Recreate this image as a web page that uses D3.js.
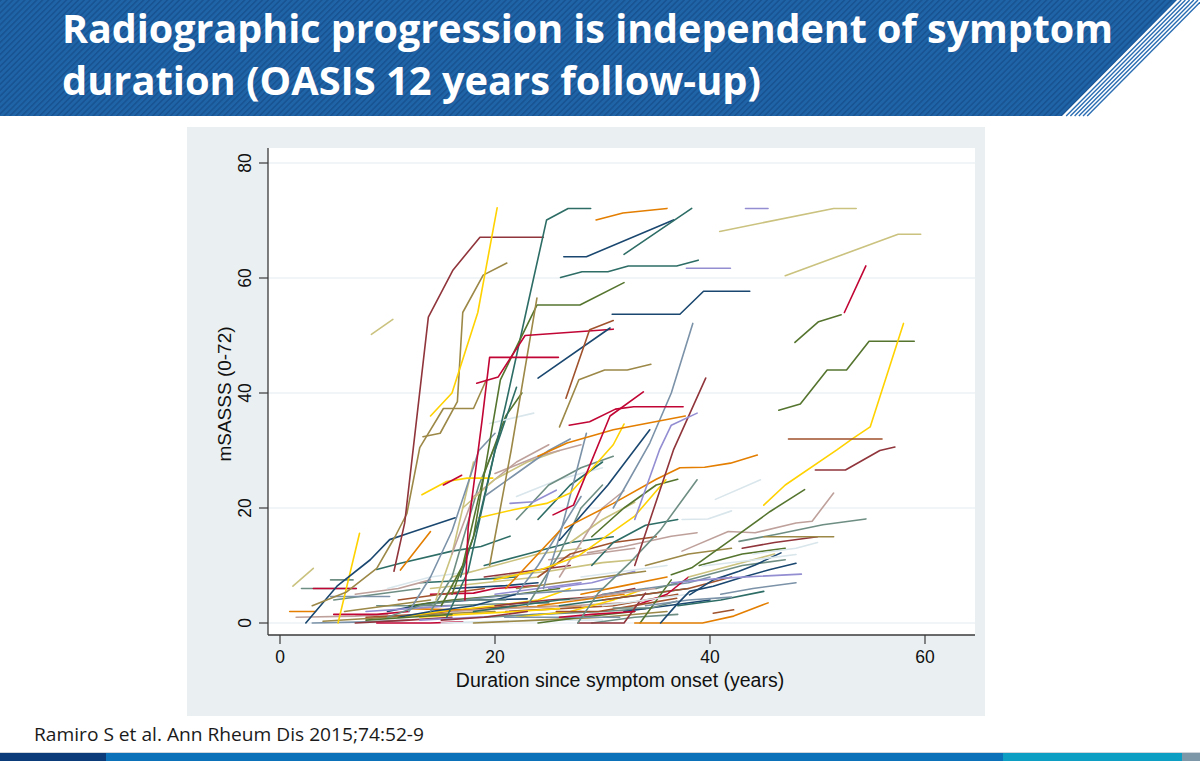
<!DOCTYPE html>
<html>
<head>
<meta charset="utf-8">
<script src="https://cdn.jsdelivr.net/npm/d3@7"></script>
<style>
  body { margin: 0; background: #fff; }
  svg { display: block; }
</style>
</head>
<body>
<div id="slide"></div>
<script>
// slide text
const titleLines = ["Radiographic progression is independent of symptom",
                    "duration (OASIS 12 years follow-up)"];
const citation = "Ramiro S et al. Ann Rheum Dis 2015;74:52-9";
const xTitle = "Duration since symptom onset (years)";
const yTitle = "mSASSS (0-72)";
const xTicks = [0, 20, 40, 60];
const yTicks = [0, 20, 40, 60, 80];

// stata s2color pstyles p1..p15
const pstyleColors = ["#1a476f", "#90353b", "#55752f", "#e37e00", "#6e8e84",
  "#c10534", "#938dd2", "#cac27e", "#a0522d", "#7b92a8",
  "#2d6d66", "#9c8847", "#bfa19c", "#ffd200", "#d9e6eb"];

// [pstyle, [[years, mSASSS], ...]]
const lowTrajectories = [
  [13, [[1.5,1],[7,1.2],[10,1.5]]],
  [10, [[3,0],[8,0.2],[12,0.5]]],
  [12, [[4,0.3],[10,1],[15,1.6],[20,2]]],
  [2, [[7,0],[12,0.5],[16,1]]],
  [6, [[9,0],[14,0],[17,0.2]]],
  [9, [[8,1],[13,1.5],[18,2.5],[22,3]]],
  [5, [[9,3],[15,3],[20,3.3],[25,3.5]]],
  [1, [[10,2],[14,3.5],[18,4],[23,4.2]]],
  [14, [[11,1],[15,2],[20,3],[24,4],[27,6]]],
  [3, [[12,3],[16,4],[22,5],[26,6]]],
  [7, [[13,0.5],[18,1],[24,1.5],[28,2]]],
  [4, [[12,2.5],[18,2.2],[23,2.8],[28,3]]],
  [8, [[14,6],[19,7],[24,8]]],
  [11, [[13,7],[17,7.4],[22,8]]],
  [15, [[15,0],[20,0.3],[26,0.5],[30,0.5]]],
  [13, [[16,2],[21,2.5],[27,3],[32,3.5]]],
  [6, [[14,5],[18,5.2],[20,6],[24,6.5]]],
  [10, [[17,4],[22,5],[26,5.5],[30,6]]],
  [1, [[16,6],[21,6.5],[24,7]]],
  [5, [[19,1],[24,1.5],[30,2],[34,2.5]]],
  [12, [[18,0],[24,0.5],[30,1],[36,2]]],
  [2, [[20,3],[25,4],[29,4.5],[33,6]]],
  [9, [[21,2],[26,2.5],[31,3],[34,4],[37,5]]],
  [14, [[22,1],[27,2],[31,4],[34,6]]],
  [3, [[24,0],[28,1],[33,2]]],
  [8, [[20,8],[25,9],[30,10.5],[33,11]]],
  [7, [[25,6],[29,7],[33,9]]],
  [11, [[26,3],[30,4],[34,5],[38,6]]],
  [10, [[30,5],[34,6],[38,7],[40,8]]],
  [13, [[25,11],[29,12],[33,13]]],
  [4, [[28,5],[32,6.5],[36,8]]],
  [15, [[28,8],[32,9],[36,10]]],
  [5, [[29,0],[33,1],[37,1.5]]],
  [9, [[30,4],[34,5],[38,6],[42,8]]],
  [1, [[32,2],[36,3],[40,4]]],
  [6, [[33,3],[36,5],[38,8]]],
  [12, [[34,10],[38,12],[42,13]]],
  [8, [[38,8],[42,10],[46,12]]],
  [3, [[39,10],[43,12],[47,13]]],
  [2, [[43,13],[46,14],[50,15]]],
  [10, [[41,5],[44,6],[48,7]]],
  [15, [[44,12],[48,13],[50,14]]],
  [11, [[37,3],[41,4],[45,5.5]]],
  [5, [[5,4],[9,5],[13,6]]],
  [12, [[6,2],[10,3],[14,4]]],
  [13, [[7,5],[11,6],[14,7.5]]],
  [7, [[8,2],[12,2.5],[16,3]]],
  [15, [[10,6],[14,8],[18,9]]],
  [6, [[5,1.5],[9,1.5],[12,2]]],
  [10, [[20.9,1],[31.6,1]]],
  [9, [[25.7,2],[29.6,2],[33.5,3.2],[36.9,4.3]]],
  [5, [[31,2.6],[34.5,2.6],[36.9,3.8]]],
  [3, [[33.5,0],[36.4,7.5]]],
  [2, [[27.7,0],[32,0],[34,5.2]]],
  [4, [[33,0],[39.3,0],[42.2,1.2],[45.4,3.5]]],
  [9, [[40.3,1.7],[42.2,2.3]]],
  [8, [[1.2,6.4],[3.1,9.5]]],
  [5, [[2,6],[7.1,6]]],
  [6, [[3.1,6],[7.1,6]]],
  [5, [[4.7,7.5],[6.8,7.5]]],
  [4, [[0.9,2],[3.3,2]]],
  [10, [[4.7,4.6],[10.2,4.6]]],
  [1, [[11,1],[14,2],[18,3],[22,5]]],
  [5, [[10,1],[13,3],[17,4],[21,4]]],
  [14, [[13,1],[17,1.5],[22,2],[26,2.5]]],
  [11, [[18,2],[22,3],[26,4],[30,4.5]]],
  [2, [[15,0.5],[19,1],[23,2]]],
  [7, [[20,5],[24,6],[28,7]]],
  [12, [[22,6],[26,7],[30,8],[34,9]]],
  [4, [[24,3],[28,4],[32,5]]],
  [6, [[26,1],[29,1.5],[33,2]]],
  [15, [[30,3],[34,4],[38,5]]],
  [13, [[27,4],[31,5],[35,6]]],
  [9, [[11,4],[15,5],[19,6]]],
  [3, [[8,0.5],[12,1],[16,1.5]]],
  [10, [[34,3],[38,4],[42,4.5]]],
  [5, [[35,6],[39,8],[43,10],[47,11]]]
];

const midTrajectories = [
  [14, [[5.4,0],[7.4,15.6]]],
  [1, [[2.4,0],[5.3,6.4],[8.4,11],[10.2,14.5],[12.1,15.7],[16.3,18.3]]],
  [11, [[9,9.3],[11.2,10.4],[16,12.5],[18.7,13.3],[21.4,15.1]]],
  [4, [[11.2,9.2],[14,15.9]]],
  [8, [[16,8],[20,10],[24,12],[28,13]]],
  [11, [[19,10],[23,12],[27,14],[31,15]]],
  [2, [[19,8],[23,9],[27,10]]],
  [5, [[14,2],[16,8],[18.5,24],[20.5,33]]],
  [3, [[15,3],[17,10],[19,26],[21,36],[22.5,40]]],
  [11, [[15.5,1],[17.5,9],[20,30],[22,41]]],
  [8, [[14.5,4],[16,12],[18,28]]],
  [10, [[12,2],[14,8],[16,16],[18.5,30],[20,33]]],
  [13, [[16,12],[18,22],[22,28],[25,31]]],
  [8, [[17,20],[20,25],[23,28],[26,30]]],
  [15, [[22,22],[26,25],[30,27]]],
  [13, [[20,26],[24,29],[28,31]]],
  [5, [[22,18],[25,24],[28,27],[31,29]]],
  [10, [[19,22],[22,26],[25,30],[27,32]]],
  [11, [[24,18],[27,24],[30,28]]],
  [8, [[27,14],[30,18],[33,21]]],
  [3, [[29,15],[32,20],[35,24],[37,25]]],
  [10, [[22,5],[24,10],[26,16],[28,22]]],
  [5, [[23,3],[26,12],[28,20],[30,24]]],
  [4, [[21,6],[24,12],[26,16]]],
  [13, [[26,8],[28,14],[30,20],[32,23]]],
  [9, [[24,8],[27,12],[31,14],[35,15]]],
  [11, [[29,10],[31,14],[34,17],[37,18]]],
  [10, [[24.5,6],[26,15],[28.5,33]]],
  [14, [[19.9,7.5],[24.3,9.3],[27.7,11.6],[33,18.6],[35.9,24.9]]],
  [13, [[28.6,12.2],[32,13.3],[36.4,15.1],[38.8,15.7]]],
  [5, [[27.7,0],[29.6,5.2],[32.5,10.4],[35.4,16.2],[38.8,24.9]]],
  [5, [[42.7,14.2],[46.1,15.4],[50.5,17.1],[54.5,18.1]]],
  [12, [[45,15],[51.5,15]]],
  [13, [[37.4,12.5],[41.7,15.9],[44.2,15.7],[48,17.4],[49.5,17.7],[51.5,22.6]]],
  [3, [[36.4,8.4],[38.3,9.6],[42.2,14.8],[45.6,19.4],[48.8,23.2]]],
  [1, [[35.4,0],[36.9,3.2],[38.1,5.5],[40.3,6.4],[42.7,7.8],[45.6,9.3],[48,10.4]]],
  [1, [[38.1,4.9],[40.3,7.5],[42.7,9],[44.2,10.1],[46.6,12.2]]],
  [7, [[36.4,7],[41.3,7.8],[48.5,8.5]]],
  [15, [[39.3,9.9],[44.2,11],[48,11.9]]],
  [15, [[37.4,18],[39.8,18.1],[42,19.5]]],
  [15, [[40.5,21.5],[44.7,24.9]]],
  [14, [[18.5,18.3],[21.7,19.7],[24.8,20.8],[27,22.6],[31,31],[32,34.6]]],
  [14, [[13.2,22.3],[15.5,24.6],[17.4,25.2],[19.8,25.2]]],
  [6, [[15.2,24],[16.9,25.7]]],
  [15, [[19.5,34.7],[23.6,36.5]]],
  [7, [[21.4,20.8],[23.6,21.1],[25.7,23.1]]],
  [1, [[26,14.4],[30.5,24],[34.4,33.6]]],
  [4, [[26.5,16.5],[31,20.8],[35,25],[37.2,27],[39.5,27.1],[41.9,27.8],[44.4,29.2]]]
];

const highTrajectories = [
  [12, [[3,3],[6.2,5.4],[9,9.5],[10.7,15],[11.8,19],[13,30.5],[15.2,37.3],[18,37.3],[19.2,42.3]]],
  [2, [[10.6,9],[11.6,17.4],[13.8,53.2],[16.1,61.4],[18.6,67.1],[24.5,67.1]]],
  [12, [[13.3,32.4],[14.9,33],[16.5,38.5],[17,54],[18.9,60.5],[21.1,62.6]]],
  [14, [[14,36],[16,40],[18.4,54],[20.2,72.2]]],
  [8, [[8.5,50.2],[10.5,52.8]]],
  [11, [[16.8,8],[18.5,18],[21,38],[23,55],[24.8,70.1],[26.8,72.1],[28.9,72.1]]],
  [3, [[16,5],[18,15],[20.5,42.3],[23.9,55.3],[27.9,55.3],[32,59.2]]],
  [12, [[19.5,10],[21.5,30],[23.9,56.5]]],
  [6, [[17.2,4],[17.5,16.5],[18.8,35.3],[19.5,46.2],[25.9,46.2]]],
  [6, [[18.3,41.7],[20.3,42.8],[22.8,50],[31,51.1]]],
  [4, [[29.4,70.1],[31.9,71.3],[36,72.1]]],
  [1, [[26.4,63.7],[28.5,63.7],[36.6,70.1]]],
  [11, [[32,64.1],[38.3,72.1]]],
  [7, [[43.3,72.1],[45.4,72.1]]],
  [8, [[40.9,68.1],[51.5,72.1],[53.6,72.1]]],
  [8, [[47,60.4],[57.5,67.6],[59.6,67.6]]],
  [11, [[26.1,60.1],[28.1,61.1],[30.5,61.1],[32.4,62.1],[36.9,62.1],[38.9,63.1]]],
  [7, [[37.8,61.7],[41.9,61.7]]],
  [6, [[52.5,54],[54.5,62.1]]],
  [3, [[47.9,48.8],[50.1,52.4],[52.2,53.6]]],
  [3, [[46.4,37],[48.4,38.1],[50.9,44],[52.7,44],[54.8,49],[59,49]]],
  [14, [[45,20.5],[47,24],[51.8,30.1],[53.3,32.1],[54.9,34.1],[58,52.1]]],
  [9, [[47.3,32],[56,32]]],
  [2, [[49.8,26.6],[52.6,26.6],[55.8,30],[57.2,30.6]]],
  [1, [[30.9,53.7],[37.2,53.7],[39.4,57.7],[43.7,57.7]]],
  [1, [[24,42.6],[30.7,51.3]]],
  [9, [[26.6,39.1],[28.8,51],[31,52.6]]],
  [12, [[26,34.1],[27.8,42.3],[30.2,44],[32.3,44],[34.5,45]]],
  [10, [[31,20],[34.4,31.3],[36.4,40],[38.4,52.1]]],
  [2, [[33,10],[36.6,30.1],[39.6,42.6]]],
  [6, [[26.9,34.4],[28.8,35],[31.2,37.2],[32.9,37.6],[37.5,37.6]]],
  [4, [[24,29],[26.7,31.3],[31,33.6],[37.7,36]]],
  [7, [[33,18],[35.3,30.1],[36.4,34.4],[38.8,36.5]]],
  [6, [[25.4,18.8],[27.3,20.5],[30.7,36],[33.8,40.2]]]
];

const W = 1200, H = 761;
const svg = d3.select("#slide").append("svg")
    .attr("width", W)
    .attr("height", H);

const defs = svg.append("defs");

// banner hatching
const hatch = defs.append("pattern")
    .attr("id", "hatch")
    .attr("patternUnits", "userSpaceOnUse")
    .attr("width", 4.2)
    .attr("height", 4.2)
    .attr("patternTransform", "rotate(45)");
hatch.append("rect").attr("width", 4.2).attr("height", 4.2).attr("fill", "#2064a8");
hatch.append("line").attr("x1", 0.8).attr("y1", 0).attr("x2", 0.8).attr("y2", 4.2)
    .attr("stroke", "#17518f").attr("stroke-width", 1.4);

// title banner
const bannerBottom = 116;
svg.append("path")
    .attr("d", `M0,0 L1177,0 L1062,${bannerBottom} L0,${bannerBottom} Z`)
    .attr("fill", "url(#hatch)");

// thin stripes next to the slanted edge
d3.range(1, 7).forEach(k => {
    svg.append("line")
        .attr("x1", 1177 + k * 4.2).attr("y1", 0)
        .attr("x2", 1062 + k * 4.2).attr("y2", bannerBottom)
        .attr("stroke", "#2a6db2")
        .attr("stroke-width", 1.4);
});

const titleText = svg.append("g")
    .attr("font-family", "'Open Sans', 'DejaVu Sans', sans-serif")
    .attr("font-weight", 700)
    .attr("font-size", 40)
    .attr("fill", "#fff");
titleText.append("text").attr("x", 62).attr("y", 43)
    .attr("textLength", 1051).attr("lengthAdjust", "spacingAndGlyphs")
    .text(titleLines[0]);
titleText.append("text").attr("x", 62).attr("y", 95)
    .attr("textLength", 699).attr("lengthAdjust", "spacingAndGlyphs")
    .text(titleLines[1]);

// graph region
svg.append("rect")
    .attr("x", 187).attr("y", 127)
    .attr("width", 798).attr("height", 589)
    .attr("fill", "#eaf0f2");

const plot = {left: 268, right: 975, top: 148, bottom: 635};

svg.append("rect")
    .attr("x", plot.left).attr("y", plot.top)
    .attr("width", plot.right - plot.left).attr("height", plot.bottom - plot.top)
    .attr("fill", "#fff");

const x = d3.scaleLinear().domain([0, 60]).range([280, 925]);
const y = d3.scaleLinear().domain([0, 80]).range([623, 163]);

// gridlines
svg.append("g")
    .selectAll("line")
    .data(yTicks)
    .join("line")
    .attr("x1", plot.left).attr("x2", plot.right)
    .attr("y1", d => y(d)).attr("y2", d => y(d))
    .attr("stroke", "#e4ecef")
    .attr("stroke-width", 1.2);

defs.append("clipPath").attr("id", "plotClip")
    .append("rect")
    .attr("x", plot.left + 1).attr("y", plot.top)
    .attr("width", plot.right - plot.left - 1).attr("height", plot.bottom - plot.top - 1);

const line = d3.line()
    .x(d => x(d[0]))
    .y(d => y(d[1]));

const allTrajectories = lowTrajectories.concat(midTrajectories, highTrajectories);

svg.append("g")
    .attr("clip-path", "url(#plotClip)")
    .selectAll("path")
    .data(allTrajectories)
    .join("path")
    .attr("d", d => line(d[1]))
    .attr("fill", "none")
    .attr("stroke", d => pstyleColors[d[0] - 1])
    .attr("stroke-width", 1.6)
    .attr("stroke-linejoin", "round")
    .attr("stroke-linecap", "round");

// axes
const axisColor = "#3a3a3a";
const axisFont = "'Liberation Sans', Arial, sans-serif";

svg.append("line")
    .attr("x1", plot.left).attr("x2", plot.left)
    .attr("y1", plot.top).attr("y2", plot.bottom)
    .attr("stroke", axisColor).attr("stroke-width", 1.3);
svg.append("line")
    .attr("x1", plot.left).attr("x2", plot.right)
    .attr("y1", plot.bottom).attr("y2", plot.bottom)
    .attr("stroke", axisColor).attr("stroke-width", 1.3);

const yAxis = svg.append("g");
yAxis.selectAll("line")
    .data(yTicks)
    .join("line")
    .attr("x1", plot.left - 9).attr("x2", plot.left)
    .attr("y1", d => y(d)).attr("y2", d => y(d))
    .attr("stroke", axisColor).attr("stroke-width", 1.2);
yAxis.selectAll("text")
    .data(yTicks)
    .join("text")
    .attr("transform", d => `translate(251,${y(d)}) rotate(-90)`)
    .attr("text-anchor", "middle")
    .attr("font-family", axisFont)
    .attr("font-size", 17.5)
    .attr("fill", "#111")
    .text(d => d);

const xAxis = svg.append("g");
xAxis.selectAll("line")
    .data(xTicks)
    .join("line")
    .attr("x1", d => x(d)).attr("x2", d => x(d))
    .attr("y1", plot.bottom).attr("y2", plot.bottom + 9)
    .attr("stroke", axisColor).attr("stroke-width", 1.2);
xAxis.selectAll("text")
    .data(xTicks)
    .join("text")
    .attr("x", d => x(d))
    .attr("y", 663)
    .attr("text-anchor", "middle")
    .attr("font-family", axisFont)
    .attr("font-size", 17.5)
    .attr("fill", "#111")
    .text(d => d);

svg.append("text")
    .attr("x", 620).attr("y", 687)
    .attr("text-anchor", "middle")
    .attr("font-family", axisFont)
    .attr("font-size", 19.5)
    .attr("fill", "#111")
    .text(xTitle);

svg.append("text")
    .attr("transform", "translate(231,394) rotate(-90)")
    .attr("text-anchor", "middle")
    .attr("font-family", axisFont)
    .attr("font-size", 19)
    .attr("fill", "#111")
    .text(yTitle);

// citation
svg.append("text")
    .attr("x", 34).attr("y", 741)
    .attr("font-family", "'Open Sans', 'DejaVu Sans', sans-serif")
    .attr("font-size", 18.5)
    .attr("fill", "#1a1a1a")
    .attr("textLength", 390).attr("lengthAdjust", "spacingAndGlyphs")
    .text(citation);

// footer bar
svg.append("rect").attr("x", 0).attr("y", 752).attr("width", W).attr("height", 1).attr("fill", "#cfd5da");
const barSegments = [[0, 106, "#0c3b7a"], [106, 1003, "#0b72ba"], [1003, 1182, "#0c9fc3"], [1182, 1200, "#7e97a8"]];
svg.append("g")
    .selectAll("rect")
    .data(barSegments)
    .join("rect")
    .attr("x", d => d[0]).attr("y", 753)
    .attr("width", d => d[1] - d[0]).attr("height", 8)
    .attr("fill", d => d[2]);
</script>
</body>
</html>
